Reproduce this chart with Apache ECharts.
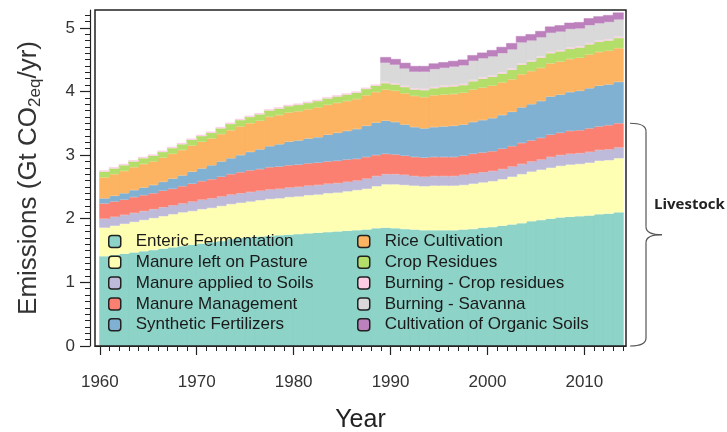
<!DOCTYPE html>
<html><head><meta charset="utf-8">
<script src="https://cdn.jsdelivr.net/npm/echarts@6/dist/echarts.min.js"></script>
<style>html,body{margin:0;padding:0;background:#fff}#c{width:727px;height:432px}</style>
</head><body><div id="c"></div>
<script>
const years = [1961,1962,1963,1964,1965,1966,1967,1968,1969,1970,1971,1972,1973,1974,1975,1976,1977,1978,1979,1980,1981,1982,1983,1984,1985,1986,1987,1988,1989,1990,1991,1992,1993,1994,1995,1996,1997,1998,1999,2000,2001,2002,2003,2004,2005,2006,2007,2008,2009,2010,2011,2012,2013,2014];
const entericFermentation = [1.41,1.43,1.45,1.47,1.49,1.51,1.53,1.55,1.57,1.59, 1.61,1.63,1.65,1.68,1.70,1.71,1.72,1.73,1.74,1.75, 1.76,1.77,1.78,1.79,1.80,1.81,1.82,1.83,1.85,1.86, 1.85,1.84,1.83,1.82,1.82,1.82,1.82,1.83,1.84,1.86, 1.87,1.89,1.91,1.93,1.96,1.98,2.00,2.02,2.03,2.04, 2.05,2.07,2.08,2.10];
const manurePasture = [.45,.46,.47,.48,.49,.50,.51,.52,.53,.53, .54,.54,.55,.55,.55,.56,.57,.58,.58,.59, .59,.60,.60,.61,.61,.62,.63,.64,.66,.68, .69,.69,.69,.69,.70,.70,.70,.70,.71,.71, .72,.73,.75,.77,.78,.79,.80,.81,.82,.82, .83,.84,.84,.85];
const manureSoils = [.14,.14,.14,.14,.14,.14,.14,.14,.14,.15, .15,.15,.15,.15,.15,.15,.15,.15,.15,.15, .15,.15,.15,.15,.15,.15,.15,.16,.16,.16, .16,.16,.15,.15,.15,.15,.15,.16,.16,.16, .16,.16,.16,.16,.16,.16,.17,.17,.17,.17, .17,.17,.17,.17];
const manureManagement = [.24,.24,.24,.25,.25,.25,.26,.26,.27,.28, .29,.30,.31,.32,.33,.34,.34,.35,.35,.35, .35,.35,.35,.35,.35,.35,.34,.34,.33,.32, .31,.30,.30,.30,.30,.30,.30,.30,.31,.31, .31,.32,.32,.33,.33,.34,.35,.35,.36,.36, .37,.37,.38,.38];
const syntheticFertilizers = [.08,.09,.10,.11,.12,.13,.14,.16,.17,.19, .20,.22,.24,.25,.27,.29,.31,.33,.35,.37, .38,.39,.40,.42,.44,.45,.47,.49,.51,.52, .51,.49,.47,.46,.47,.48,.49,.49,.50,.51, .52,.53,.54,.56,.57,.58,.60,.60,.61,.62, .63,.64,.64,.65];
const riceCultivation = [.33,.34,.35,.36,.37,.37,.38,.39,.40,.41, .42,.42,.43,.44,.45,.45,.45,.46,.46,.46, .46,.46,.47,.47,.47,.47,.47,.48,.48,.49, .49,.49,.49,.49,.50,.50,.50,.50,.51,.51, .51,.51,.51,.52,.52,.52,.52,.52,.52,.52, .53,.53,.53,.53];
const cropResidues = [.09,.09,.09,.09,.09,.09,.09,.09,.09,.09, .09,.09,.09,.10,.10,.10,.10,.10,.10,.10, .10,.10,.10,.10,.10,.10,.10,.10,.10,.10, .10,.10,.10,.11,.11,.12,.12,.12,.13,.14, .14,.14,.15,.15,.15,.16,.16,.16,.16,.16, .16,.16,.16,.16];
const burningCropResidues = [.02,.02,.02,.02,.02,.02,.02,.02,.02,.02, .02,.02,.02,.02,.02,.02,.02,.02,.02,.02, .02,.02,.02,.02,.02,.02,.02,.02,.02,.02, .02,.02,.02,.02,.02,.02,.02,.02,.02,.02, .02,.02,.02,.02,.02,.02,.02,.02,.02,.02, .02,.02,.02,.02];
const burningSavanna = [null,null,null,null,null,null,null,null,null,null, null,null,null,null,null,null,null,null,null,null, null,null,null,null,null,null,null,null,null, .30,.29,.27,.26,.27,.28,.28,.29,.29,.30,.30,.30,.30,.30,.33,.31,.30,.30,.29,.29,.28,.28,.27,.27,.27];
const organicSoils = [null,null,null,null,null,null,null,null,null,null, null,null,null,null,null,null,null,null,null,null, null,null,null,null,null,null,null,null,null, .09,.09,.09,.09,.09,.09,.09,.09,.09,.09,.09,.10,.10,.10,.10,.10,.10,.10,.10,.10,.10,.11,.11,.11,.11];
const seriesNames = ['Enteric Fermentation','Manure left on Pasture','Manure applied to Soils','Manure Management','Synthetic Fertilizers','Rice Cultivation','Crop Residues','Burning - Crop residues','Burning - Savanna','Cultivation of Organic Soils'];
const seriesValues = [entericFermentation, manurePasture, manureSoils, manureManagement, syntheticFertilizers, riceCultivation, cropResidues, burningCropResidues, burningSavanna, organicSoils];
const colors = ['#8dd3c7','#ffffb3','#bebada','#fb8072','#80b1d3','#fdb462','#b3de69','#fccde5','#d9d9d9','#bc80bd'];
const majorYears = [1960,1970,1980,1990,2000,2010];
const yTicks = [0,1,2,3,4,5];
const livestockCount = 4;

// each year is a full-width stacked column over [year-1, year];
// stored as [value, x] so the stack is computed on the value dimension
function colData(vals){ return years.map((y,i)=>[vals[i], y-0.5]); }
const minorYears = []; for(let y=1960;y<=2014;y++) minorYears.push(y);
const minorY = []; for(let k=0;k<=52;k++) minorY.push(+(k/10).toFixed(1));

const FONT = 'Liberation Sans';
const chart = echarts.init(document.getElementById('c'), null, {renderer:'canvas'});
const GL=95, GT=10, GR=727-626, GB=432-346;
const X_MIN=1959.5, X_MAX=2014.3;
const pxPerYear = (727-GL-GR)/(X_MAX-X_MIN);
const legendBase = {
  orient:'vertical', top:233, padding:0, itemWidth:12, itemHeight:12, itemGap:3.8, icon:'roundRect', selectedMode:false,
  itemStyle:{borderColor:'#222', borderWidth:1.5},
  textStyle:{fontSize:17, color:'#1a1a1a', fontFamily:FONT, padding:[0,0,0,10]}
};
chart.setOption({
  animation:false,
  backgroundColor:'#fff',
  color: colors,
  grid:{left:GL, top:GT, right:GR, bottom:GB, show:false, outerBoundsMode:'none', containLabel:false},
  legend:[
    Object.assign({}, legendBase, {left:108, data:seriesNames.slice(0,5)}),
    Object.assign({}, legendBase, {left:357, data:seriesNames.slice(5)})
  ],
  xAxis:[
    {type:'value', min:X_MIN, max:X_MAX, position:'bottom', offset:4,
     axisLine:{show:true, lineStyle:{color:'#222', width:1.2}},
     axisTick:{show:true, customValues:majorYears, length:9, lineStyle:{color:'#222', width:1.2}},
     axisLabel:{customValues:majorYears, formatter:(v)=>String(v), fontSize:17, color:'#333', fontFamily:FONT, margin:24},
     splitLine:{show:false},
     name:'Year', nameLocation:'middle', nameGap:58, nameTextStyle:{fontSize:25, color:'#222', fontFamily:FONT}},
    {type:'value', min:X_MIN, max:X_MAX, position:'bottom', offset:4,
     axisLine:{show:false}, axisTick:{show:true, customValues:minorYears, length:5, lineStyle:{color:'#222', width:1}},
     axisLabel:{show:false}, splitLine:{show:false}}
  ],
  yAxis:[
    {type:'value', min:0, max:5.28, position:'left', offset:5,
     axisLine:{show:true, lineStyle:{color:'#222', width:1.2}},
     axisTick:{show:true, customValues:yTicks, length:10, lineStyle:{color:'#222', width:1.2}},
     axisLabel:{customValues:yTicks, formatter:(v)=>String(v), fontSize:17, color:'#333', fontFamily:FONT, margin:15},
     splitLine:{show:false},
     name:'{a|Emissions (Gt CO}{s|2eq}{a|/yr)}', nameLocation:'middle', nameGap:46,
     nameTextStyle:{color:'#333', fontFamily:FONT, fontSize:26,
       rich:{a:{fontSize:26, lineHeight:30, color:'#333', fontFamily:FONT},
             s:{fontSize:17, lineHeight:16, verticalAlign:'bottom', color:'#333', fontFamily:FONT}}}},
    {type:'value', min:0, max:5.28, position:'left', offset:5,
     axisLine:{show:false}, axisTick:{show:true, customValues:minorY, length:5, lineStyle:{color:'#222', width:1}},
     axisLabel:{show:false}, splitLine:{show:false}}
  ],
  series: seriesNames.map((n,i)=>({
    name:n, type:'bar', stack:'total', barWidth: pxPerYear + 1.2, barGap:'-100%',
    data: colData(seriesValues[i]), encode:{x:1, y:0},
    itemStyle:{color:colors[i], borderColor:colors[i], borderWidth:0.5}
  }))
});

// frame and "Livestock" brace positioned from the data scale
const lastIdx = years.length-1;
let livestockTop = 0; for(let k=0;k<livestockCount;k++) livestockTop += seriesValues[k][lastIdx];
const yTop = chart.convertToPixel({yAxisIndex:0}, livestockTop);
const yBot = chart.convertToPixel({yAxisIndex:0}, 0);
const yMid = (yTop+yBot)/2;
const x0=630, x1=646, x2=662, r=8;
const st = {fill:'none', stroke:'#555', lineWidth:1.2};
chart.setOption({
  graphic:[
    {type:'rect', shape:{x:GL, y:GT, width:727-GL-GR, height:432-GT-GB}, style:{fill:'none', stroke:'#222', lineWidth:1.5}, z:100, silent:true},
    {type:'bezierCurve', shape:{x1:x0, y1:yTop, cpx1:x1, cpy1:yTop, x2:x1, y2:yTop+r}, style:st, z:100, silent:true},
    {type:'line', shape:{x1:x1, y1:yTop+r, x2:x1, y2:yMid-r}, style:st, z:100, silent:true},
    {type:'bezierCurve', shape:{x1:x1, y1:yMid-r, cpx1:x1, cpy1:yMid, x2:x2, y2:yMid}, style:st, z:100, silent:true},
    {type:'bezierCurve', shape:{x1:x2, y1:yMid, cpx1:x1, cpy1:yMid, x2:x1, y2:yMid+r}, style:st, z:100, silent:true},
    {type:'line', shape:{x1:x1, y1:yMid+r, x2:x1, y2:yBot-r}, style:st, z:100, silent:true},
    {type:'bezierCurve', shape:{x1:x1, y1:yBot-r, cpx1:x1, cpy1:yBot, x2:x0, y2:yBot}, style:st, z:100, silent:true},
    {type:'text', x:654, y:yMid-30, style:{text:'Livestock', fill:'#222', font:'bold 15px "Open Sans"', textVerticalAlign:'middle'}, z:100, silent:true}
  ]
});
</script></body></html>
